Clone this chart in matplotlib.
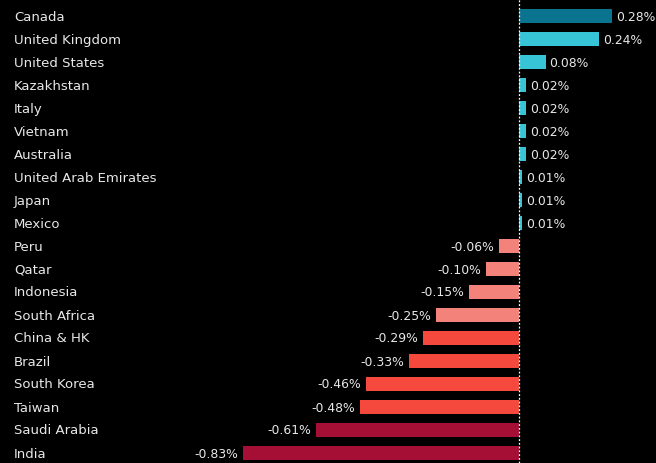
import matplotlib
matplotlib.use("Agg")
import matplotlib.pyplot as plt
from matplotlib.transforms import offset_copy

countries = ["Canada", "United Kingdom", "United States", "Kazakhstan", "Italy",
             "Vietnam", "Australia", "United Arab Emirates", "Japan", "Mexico",
             "Peru", "Qatar", "Indonesia", "South Africa", "China & HK", "Brazil",
             "South Korea", "Taiwan", "Saudi Arabia", "India"]
values = [0.28, 0.24, 0.08, 0.02, 0.02, 0.02, 0.02, 0.01, 0.01, 0.01,
          -0.06, -0.10, -0.15, -0.25, -0.29, -0.33, -0.46, -0.48, -0.61, -0.83]

def color_for(v):
    if v >= 0.25:
        return "#0a7390"
    if v >= 0:
        return "#36c4d6"
    if v > -0.28:
        return "#f2827a"
    if v > -0.5:
        return "#f5493d"
    return "#a50f36"

W, H = 656, 464
fig = plt.figure(figsize=(W / 100, H / 100), dpi=100, facecolor="black")
ax = fig.add_axes([0, 0, 1, 1])
ax.set_facecolor("black")

zero_px, scale = 519, 332.0
ax.set_xlim(-zero_px / scale, (W - zero_px) / scale)
ax.set_ylim((H - 17) / 23, -17 / 23)

ys = list(range(len(countries)))
ax.barh(ys, values, height=0.65, color=[color_for(v) for v in values], zorder=2)
ax.axvline(0, color="white", lw=0.9, ls=(0, (1.5, 1.5)), zorder=3)

fs = 9.5
vfs = 8.9
tc = "#e8e8e8"
for y, name, v in zip(ys, countries, values):
    ax.text(14 / W, y, name, transform=ax.get_yaxis_transform(), ha="left",
            va="center", color=tc, fontsize=fs)
    if v >= 0:
        tr = offset_copy(ax.transData, fig=fig, x=4, y=0, units="dots")
        ax.text(v, y, f"{v:.2f}%", transform=tr, ha="left", va="center",
                color=tc, fontsize=vfs)
    else:
        tr = offset_copy(ax.transData, fig=fig, x=-5, y=0, units="dots")
        ax.text(v, y, f"{v:.2f}%", transform=tr, ha="right", va="center",
                color=tc, fontsize=vfs)

ax.axis("off")
fig.savefig("out.png", dpi=100, facecolor="black")
